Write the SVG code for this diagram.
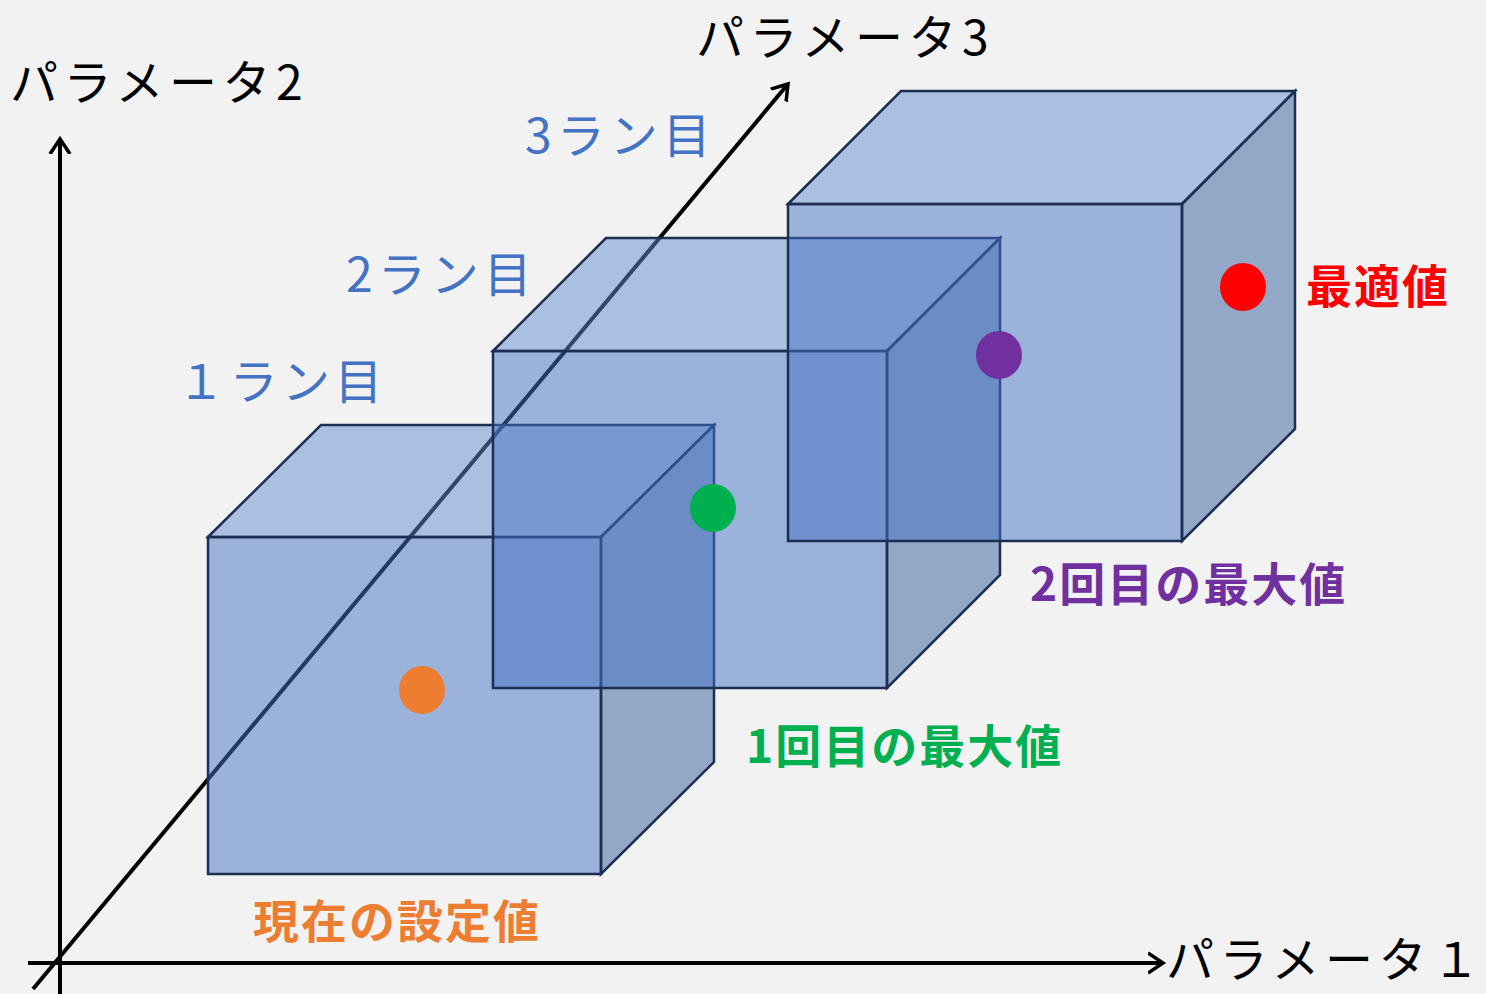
<svg xmlns="http://www.w3.org/2000/svg" width="1486" height="994" viewBox="0 0 1486 994">
<defs>
<style>
.ax{stroke:#000;stroke-width:4;fill:none}
.edge{stroke:#1c2f52;stroke-width:2.5;stroke-linejoin:miter}
.front{fill:#4472c4;fill-opacity:0.5}
.top{fill:#648cce;fill-opacity:0.5}
.side{fill:#345c9a;fill-opacity:0.5}
.lbl{font-family:"Noto Sans CJK JP","Noto Sans",sans-serif;font-size:48px;fill:#000;letter-spacing:5.5px}
.run{font-family:"Noto Sans CJK JP","Noto Sans",sans-serif;font-size:48px;fill:#4472c4;letter-spacing:5px}
.bold{font-family:"Noto Sans CJK JP","Noto Sans",sans-serif;font-size:46px;font-weight:bold;letter-spacing:2px}
</style>
<marker id="arr" markerUnits="userSpaceOnUse" markerWidth="30" markerHeight="30" refX="15" refY="10" orient="auto" viewBox="0 0 30 20">
<path d="M0,0 L15,10 L0,20" fill="none" stroke="#000" stroke-width="3.5"/>
</marker>
</defs>
<rect width="1486" height="994" fill="#f2f2f2"/>
<g id="connectors">
<line class="ax" x1="28" y1="963" x2="1163" y2="963" marker-end="url(#arr)"/>
<line class="ax" x1="60" y1="994" x2="60" y2="139" marker-end="url(#arr)"/>
<line class="ax" x1="33" y1="989" x2="788" y2="84" marker-end="url(#arr)"/>
</g>
<g id="cube1">
<polygon class="front edge" points="208,537 601,537 601,874 208,874"/>
<polygon class="top edge" points="208,537 321,425 714,425 601,537"/>
<polygon class="side edge" points="601,537 714,425 714,762 601,874"/>
</g>
<g id="cube2">
<polygon class="front edge" points="493,351 887,351 887,688 493,688"/>
<polygon class="top edge" points="493,351 606,238 1000,238 887,351"/>
<polygon class="side edge" points="887,351 1000,238 1000,575 887,688"/>
</g>
<g id="cube3">
<polygon class="front edge" points="788,204 1182,204 1182,541 788,541"/>
<polygon class="top edge" points="788,204 901,91 1295,91 1182,204"/>
<polygon class="side edge" points="1182,204 1295,91 1295,429 1182,541"/>
</g>
<g id="dot-current"><ellipse cx="422" cy="690" rx="23" ry="24" fill="#ed7d31"/></g>
<g id="dot-first"><ellipse cx="713" cy="508" rx="23" ry="24" fill="#00b050"/></g>
<g id="dot-second"><ellipse cx="999" cy="355" rx="23" ry="24" fill="#7030a0"/></g>
<g id="dot-best"><ellipse cx="1243" cy="287" rx="23" ry="24" fill="#ff0000"/></g>
<g id="labels">
<text class="lbl" x="10" y="100">パラメータ2</text>
<text class="lbl" x="696" y="55">パラメータ3</text>
<text class="lbl" x="1166" y="977">パラメータ１</text>
<text class="run" x="525" y="153">3ラン目</text>
<text class="run" x="346" y="292">2ラン目</text>
<text class="run" x="177" y="399" style="letter-spacing:4.5px">１ラン目</text>
<text class="bold" x="253" y="938" fill="#ed7d31">現在の設定値</text>
<text class="bold" x="746" y="763" fill="#00b050">1回目の最大値</text>
<text class="bold" x="1030" y="601" fill="#7030a0">2回目の最大値</text>
<text class="bold" x="1306" y="303" fill="#ff0000">最適値</text>
</g>
</svg>
